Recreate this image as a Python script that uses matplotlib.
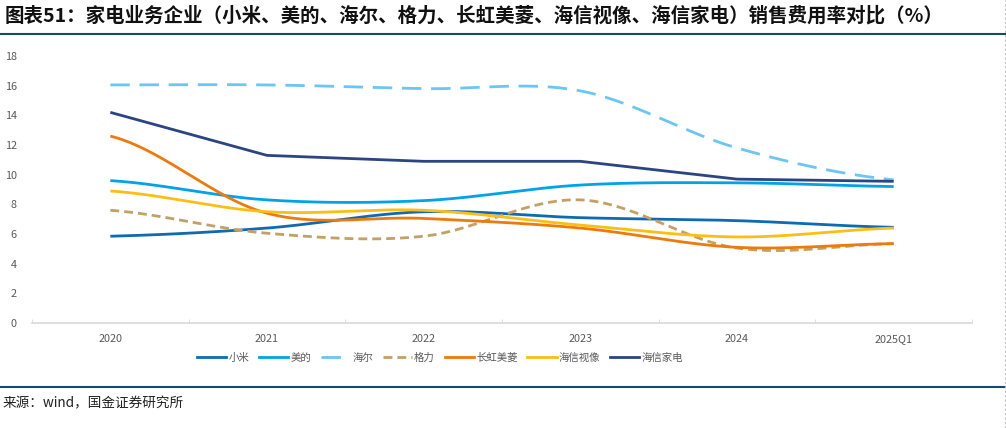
import numpy as np
import matplotlib.pyplot as plt
from matplotlib.lines import Line2D

plt.rcParams['font.family'] = ['Noto Sans CJK SC', 'DejaVu Sans']

# 数据（读自原图，%）
periods = ['2020', '2021', '2022', '2023', '2024', '2025Q1']
xiaomi = [5.85, 6.4, 7.5, 7.1, 6.9, 6.45]
midea = [9.6, 8.3, 8.25, 9.3, 9.45, 9.2]
haier = [16.05, 16.05, 15.8, 15.65, 11.8, 9.65]
gree = [7.6, 6.05, 5.85, 8.3, 5.05, 5.35]
changhong = [12.6, 7.4, 7.05, 6.4, 5.1, 5.35]
hisense_tv = [8.9, 7.5, 7.6, 6.6, 5.8, 6.4]
hisense_ha = [14.2, 11.3, 10.9, 10.9, 9.7, 9.55]

names = ['小米', '美的', '海尔', '格力', '长虹美菱', '海信视像', '海信家电']
series = [xiaomi, midea, haier, gree, changhong, hisense_tv, hisense_ha]
colors = ['#0F6AB4', '#00A3E8', '#6CC5F2', '#C3A066', '#EC7A0C', '#FDBE14', '#2B4482']
styles = ['-', '-', (0, (7, 3.5)), (0, (3.2, 1.8)), '-', '-', '-']
smooth = [True, True, True, True, True, True, False]


def smooth_curve(y, n=40):
    # 类似 Excel 平滑线：Catmull-Rom 样条
    y = np.asarray(y, float)
    x = np.arange(len(y), dtype=float)
    xs, ys = [], []
    for i in range(len(y) - 1):
        p0 = y[i - 1] if i > 0 else y[i]
        p3 = y[i + 2] if i + 2 < len(y) else y[i + 1]
        p1, p2 = y[i], y[i + 1]
        t = np.linspace(0, 1, n, endpoint=False)
        c1 = p1 + (p2 - p0) / 6
        c2 = p2 - (p3 - p1) / 6
        yy = (1 - t) ** 3 * p1 + 3 * (1 - t) ** 2 * t * c1 + 3 * (1 - t) * t ** 2 * c2 + t ** 3 * p2
        xs.append(x[i] + t)
        ys.append(yy)
    xs.append([x[-1]])
    ys.append([y[-1]])
    return np.concatenate(xs), np.concatenate(ys)


fig = plt.figure(figsize=(10.06, 4.28), dpi=100)
ax = fig.add_axes([32 / 1006, 105 / 428, 940 / 1006, 267 / 428])

for vals, c, ls, sm in zip(series, colors, styles, smooth):
    if sm:
        xx, yy = smooth_curve(vals)
    else:
        xx, yy = np.arange(len(vals)), vals
    ax.plot(xx, yy, color=c, lw=2.0, linestyle=ls, solid_capstyle='butt', dash_capstyle='butt')

ax.set_xlim(-0.5, len(periods) - 0.5)
ax.set_ylim(0, 18)
ax.set_yticks(range(0, 19, 2))
ax.set_xticks(range(len(periods)))
ax.set_xticklabels(periods)
ax.set_xticks(np.arange(-0.5, len(periods), 1), minor=True)
ax.tick_params(axis='y', length=0, labelsize=7.8, labelcolor='#595959', pad=11)
ax.tick_params(axis='x', which='major', length=0, labelsize=7.8, labelcolor='#595959', pad=8)
ax.tick_params(axis='x', which='minor', length=3, direction='in', color='#D9D9D9')
for s in ['top', 'right', 'left']:
    ax.spines[s].set_visible(False)
ax.spines['bottom'].set_color('#D9D9D9')
ax.spines['bottom'].set_linewidth(1.2)

handles = [Line2D([], [], color=c, lw=2.0, linestyle=ls) for c, ls in zip(colors, styles)]
leg = fig.legend(handles, names, loc='center', bbox_to_anchor=(440 / 1006, 70 / 428), ncol=7,
                 frameon=False, fontsize=7.5, handlelength=2.8, handletextpad=0.2,
                 columnspacing=0.95)
for t in leg.get_texts():
    t.set_color('#595959')

fig.text(5 / 1006, 1 - 16 / 428,
         '图表51：家电业务企业（小米、美的、海尔、格力、长虹美菱、海信视像、海信家电）销售费用率对比（%）',
         fontsize=14, fontweight='bold', va='center', ha='left', color='#111111')
fig.add_artist(Line2D([0, 1005 / 1006], [1 - 33.5 / 428] * 2, color='#17496B', lw=1.5))
fig.add_artist(Line2D([0, 1005 / 1006], [1 - 386.5 / 428] * 2, color='#17496B', lw=1.5))
fig.add_artist(Line2D([1005 / 1006] * 2, [0, 1], color='#BFBFBF', lw=0.8, linestyle=(0, (2, 2))))
fig.text(3 / 1006, 1 - 403 / 428, '来源：wind，国金证券研究所', fontsize=9.8, va='center', ha='left',
         color='#222222')

fig.savefig('out.png', dpi=100)
